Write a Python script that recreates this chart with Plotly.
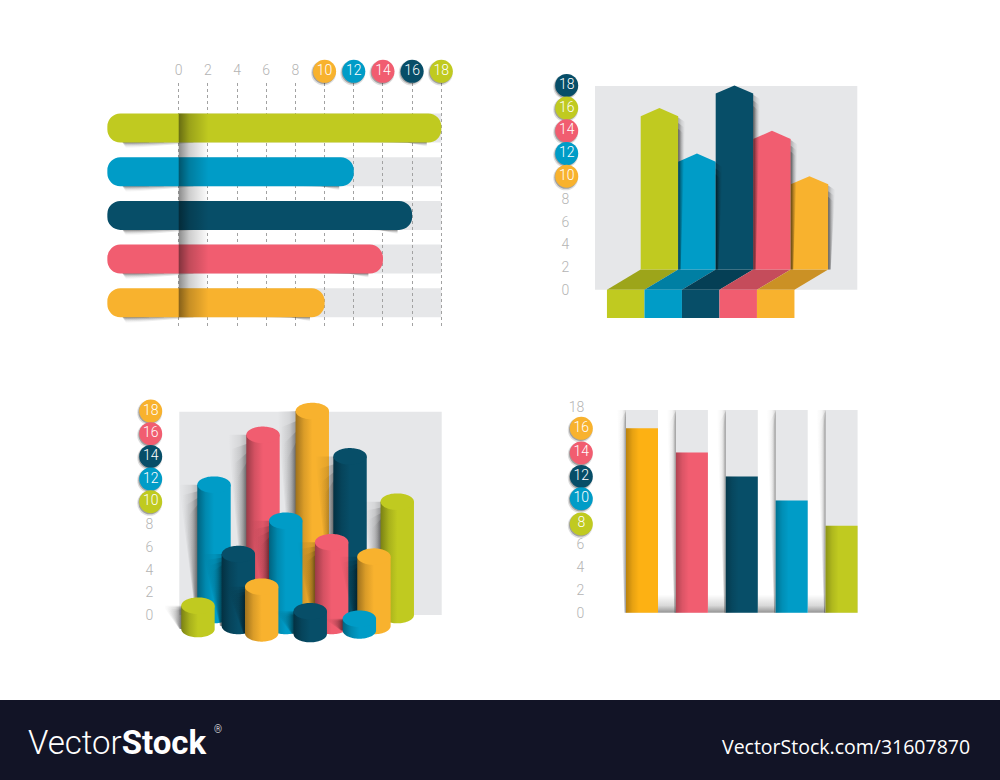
import numpy as np
import plotly.graph_objects as go

# ---------------- data ----------------
OLIVE, BLUE, NAVY, RED, ORANGE = "#c0ca20", "#009cc7", "#074e68", "#f15d70", "#f8b22e"

h_values = [18, 12, 16, 14, 10]
h_tail = -4.89
h_colors = [OLIVE, BLUE, NAVY, RED, ORANGE]
h_badges = [10, 12, 14, 16, 18]
h_badge_colors = [ORANGE, BLUE, RED, NAVY, OLIVE]
h_ticks = [0, 2, 4, 6, 8]
h_grid = [0, 2, 4, 6, 8, 10, 12, 14, 16, 18]

a_values = [16, 12, 18, 14, 10]
a_colors = [OLIVE, BLUE, NAVY, RED, ORANGE]
a_badges = [18, 16, 14, 12, 10]
a_badge_colors = [NAVY, OLIVE, RED, BLUE, ORANGE]
a_ticks = [0, 2, 4, 6, 8]

c_x = [2.38, 5.74, 9.12, 11.71, 14.95, 4.05, 7.30, 10.45, 13.35, 1.28, 5.65, 8.98, 12.35]
c_top = [11.5, 15.9, 18.0, 14.0, 10.0, 5.38, 8.32, 6.42, 5.15, 0.82, 2.50, 0.33, -0.33]
c_base = [0, 0, 0, 0, 0, -0.97, -0.97, -0.97, -0.97, -1.24, -1.62, -1.68, -1.36]
c_colors = [BLUE, RED, ORANGE, NAVY, OLIVE, NAVY, BLUE, RED, ORANGE, OLIVE, ORANGE, NAVY, BLUE]
c_badges = [18, 16, 14, 12, 10]
c_badge_colors = [ORANGE, RED, NAVY, BLUE, OLIVE]
c_ticks = [0, 2, 4, 6, 8]

d_values = [16.1, 14.0, 11.9, 9.8, 7.6]
d_track = 17.7
d_colors = ["#fdb113", RED, NAVY, BLUE, OLIVE]
d_badges = [16, 14, 12, 10, 8]
d_badge_pos = [16.1, 13.95, 11.9, 9.95, 7.75]
d_badge_colors = ["#f8b22e", RED, NAVY, BLUE, OLIVE]
d_ticks = [0, 2, 4, 6, 18]

TRACK = "#e6e7e9"
TICK = "#b4b4b4"
FONT = "Roboto"

# ---------------- helpers ----------------
W, H = 1000, 780


def rgb(c):
    return tuple(int(c[i:i + 2], 16) for i in (1, 3, 5))


def mix(c, k):
    r, g, b = rgb(c)
    return f"rgb({int(r * (1 - k))},{int(g * (1 - k))},{int(b * (1 - k))})"


def blk(a):
    return f"rgba(0,0,0,{a})"


fig = go.Figure()


def poly(xs, ys, color, ax):
    fig.add_trace(go.Scatter(x=xs, y=ys, mode="none", fill="toself", fillcolor=color,
                             xaxis="x" + ax, yaxis="y" + ax, hoverinfo="skip", showlegend=False))


def gpoly(xs, ys, kind, start, stop, scale, ax):
    fig.add_trace(go.Scatter(x=xs, y=ys, mode="none", fill="toself",
                             fillgradient=dict(type=kind, start=start, stop=stop, colorscale=scale),
                             xaxis="x" + ax, yaxis="y" + ax, hoverinfo="skip", showlegend=False))


def badges(xs, ys, labels, colors, ax, ux, uy):
    fig.add_trace(go.Scatter(x=[x - 1.0 / ux for x in xs], y=[y - uy * 1.6 for y in ys], mode="markers",
                             marker=dict(size=25, color=blk(0.13), line=dict(width=0)), cliponaxis=False,
                             xaxis="x" + ax, yaxis="y" + ax, hoverinfo="skip", showlegend=False))
    fig.add_trace(go.Scatter(x=[x - 0.8 / ux for x in xs], y=[y - uy * 1.1 for y in ys], mode="markers",
                             marker=dict(size=23, color=blk(0.28), line=dict(width=0)), cliponaxis=False,
                             xaxis="x" + ax, yaxis="y" + ax, hoverinfo="skip", showlegend=False))
    fig.add_trace(go.Scatter(x=xs, y=ys, mode="markers+text", text=[str(v) for v in labels],
                             textposition="middle center",
                             textfont=dict(family=FONT, size=14, color="white", weight=300),
                             marker=dict(size=23, color=colors, line=dict(width=0)), cliponaxis=False,
                             xaxis="x" + ax, yaxis="y" + ax, hoverinfo="skip", showlegend=False))


def dom(l, r, t, b):
    return [l / W, r / W], [1 - b / H, 1 - t / H]


def hidden(rng, d=None, overlay=None):
    a = dict(range=rng, visible=False, fixedrange=True, showgrid=False, zeroline=False)
    if d is not None:
        a["domain"] = d
    if overlay:
        a["overlaying"] = overlay
    return a


def key_axes(n, drx, dry, rx, ry):
    layout["xaxis" + n] = hidden(rx, drx)
    layout["yaxis" + n] = hidden(ry, dry)
    layout["xaxis" + n]["anchor"] = "y" + n
    layout["yaxis" + n]["anchor"] = "x" + n


shapes = []
layout = {}
tick_font = dict(family=FONT, size=14, color=TICK, weight=300)

# ---------------- panel A: horizontal pills ----------------
ux, uy = 14.59, 43.7
x0px, y0px = 178.7, 128.0
dx, dy = dom(100, 450, 83, 326)
rx = [(100 - x0px) / ux, (450 - x0px) / ux]
ry = [(326 - y0px) / uy, (83 - y0px) / uy]
bw = 0.664
rows = list(range(len(h_values)))
layout["xaxis"] = dict(domain=dx, range=rx, side="top", tickmode="array", tickvals=h_grid,
                       ticktext=[str(v) if v in h_ticks else " " for v in h_grid], ticks="outside",
                       ticklen=1, tickcolor="rgba(0,0,0,0)", tickfont=tick_font, showgrid=True,
                       gridcolor="#a2a2a2", gridwidth=0.8, griddash="3px,3px", zeroline=False,
                       showline=False, fixedrange=True, anchor="y")
layout["yaxis"] = hidden(ry, dy)
layout["yaxis"]["anchor"] = "x"
for n in ("2", "3"):
    layout["xaxis" + n] = hidden(rx, overlay="x")
    layout["yaxis" + n] = hidden(ry, overlay="y")
    layout["xaxis" + n]["anchor"] = "y" + n
    layout["yaxis" + n]["anchor"] = "x" + n

for i in rows:
    shapes.append(dict(type="rect", xref="x", yref="y", x0=0, x1=max(h_grid), y0=i - bw / 2, y1=i + bw / 2,
                       fillcolor=TRACK, line=dict(width=0), layer="below"))
    b = i + bw / 2
    d = 1 / uy
    v = h_values[i]
    for k in range(4):
        f = 1 - k * 0.22
        scale = [[0, blk(0.14)], [1, blk(0)]]
        gpoly([h_tail + 1.0, h_tail + 1.3, h_tail + 1.3 + 4.6 * f, h_tail + 1.3 + 4.6 * f],
              [b - d, b + 6 * f * d, b + 0.2 * d, b - d], "vertical", b, b + 6 * f * d, scale, "")
        gpoly([v - 7 * f, v - 2.2, v - 1.0, v - 1.0],
              [b - d, b + 0.4 * d, b + 4 * f * d, b - d], "vertical", b, b + 5 * f * d, scale, "")

fig.add_trace(go.Bar(x=[v - h_tail for v in h_values], y=rows, orientation="h", width=bw, base=h_tail,
                     marker=dict(color=h_colors, cornerradius=13, line=dict(width=0)),
                     xaxis="x2", yaxis="y2", hoverinfo="skip", showlegend=False))
top, bot = rows[0] - bw / 2, rows[-1] + bw / 2
gpoly([0, 2.05, 2.05, 0], [top, top, bot, bot], "horizontal", 0, 2.05,
      [[0, blk(0.46)], [0.35, blk(0.2)], [1, blk(0)]], "3")
kx, ky = dom(100, 450, 55, 83)
key_axes("9", kx, ky, rx, [0, 1])
badges(h_badges, [(83 - 71.3) / 28] * 5, h_badges, h_badge_colors, "9", ux, 1 / 28)

# ---------------- panel B: arrows with floor ----------------
ux, uy = 37.5, 11.35
x0px, y0px = 625.7, 289.7
dx, dy = dom(595, 870, 70, 325)
rx = [(595 - x0px) / ux, (870 - x0px) / ux]
ry = [(y0px - 325) / uy, (y0px - 70) / uy]
layout["xaxis4"] = hidden(rx, dx)
layout["xaxis4"]["anchor"] = "y4"
layout["yaxis4"] = dict(domain=dy, range=ry, anchor="x4", tickmode="array", tickvals=a_ticks,
                        ticks="outside", ticklen=22, tickcolor="rgba(0,0,0,0)", tickfont=tick_font,
                        showgrid=False, zeroline=False, showline=False, fixedrange=True)
shapes.append(dict(type="rect", xref="x4", yref="y4", x0=(595 - x0px) / ux, x1=(857.3 - x0px) / ux,
                   y0=0, y1=(y0px - 86) / uy, fillcolor=TRACK, line=dict(width=0), layer="below"))
shift, floor_y, front_y, cap = 0.9, 1.79, -2.49, 0.72
hw = 0.5
for i, (v, c) in enumerate(zip(a_values, a_colors)):
    poly([i - hw, i + hw, i + hw + shift, i - hw + shift], [0, 0, floor_y, floor_y], mix(c, 0.18), "4")
    poly([i - hw, i + hw, i + hw, i - hw], [front_y, front_y, 0, 0], c, "4")
for i, (v, c) in enumerate(zip(a_values, a_colors)):
    cx = i + shift
    poly([cx - hw, cx + hw, cx + hw, cx, cx - hw], [floor_y, floor_y, v - cap, v, v - cap], c, "4")
for i, v in enumerate(a_values):
    r = i + shift + hw
    for k in range(3):
        w1, w2 = (7 - k) / ux, 2.5 / ux
        gpoly([r, r + w1, r + w2, r], [v - cap - 0.1 - k * 0.5, v - cap - 0.5 - k * 0.5, floor_y, floor_y],
              "horizontal", r, r + w1, [[0, blk(0.26)], [0.5, blk(0.09)], [1, blk(0)]], "4")
kx, ky = dom(550, 590, 70, 325)
key_axes("10", kx, ky, [550, 590], ry)
badges([566.7] * 5, a_badges, a_badges, a_badge_colors, "10", 1, 1 / uy)

# ---------------- panel C: cylinders ----------------
ux, uy = 14.58, 11.33
x0px, y0px = 179.3, 615.0
dx, dy = dom(165, 450, 395, 650)
rx = [(165 - x0px) / ux, (450 - x0px) / ux]
ry = [(y0px - 650) / uy, (y0px - 395) / uy]
layout["xaxis5"] = hidden(rx, dx)
layout["xaxis5"]["anchor"] = "y5"
layout["yaxis5"] = dict(domain=dy, range=ry, anchor="x5", tickmode="array", tickvals=c_ticks,
                        ticks="outside", ticklen=8, tickcolor="rgba(0,0,0,0)", tickfont=tick_font,
                        showgrid=False, zeroline=False, showline=False, fixedrange=True)
shapes.append(dict(type="rect", xref="x5", yref="y5", x0=0, x1=(441.7 - x0px) / ux,
                   y0=0, y1=(y0px - 411.7) / uy, fillcolor=TRACK, line=dict(width=0), layer="below"))
rxc, ryc = 16.7 / ux, 8.3 / uy
t = np.linspace(0, np.pi, 40)
tf = np.linspace(0, 2 * np.pi, 80)
for cx, tp, bs, c in zip(c_x, c_top, c_base, c_colors):
    l = cx - rxc
    h = tp - bs
    for k in range(4):
        w = (18 - k * 3) / ux
        drop = min(k * 0.08, 0.3) * h
        gpoly([l - w, l + 0.1, l + 0.1, l - w * 0.1], [tp - drop, tp - drop * 0.6, bs, bs], "horizontal",
              l - w, l + 0.1, [[0, blk(0)], [0.6, blk(0.07)], [1, blk(0.21)]], "5")
    sx = list(cx - rxc * np.cos(t)) + [cx + rxc, cx - rxc]
    sy = list(bs - ryc * np.sin(t)) + [tp, tp]
    gpoly(sx, sy, "horizontal", cx - rxc, cx + rxc,
          [[0, mix(c, 0.36)], [0.25, mix(c, 0.12)], [0.5, c], [1, c]], "5")
    poly(list(cx + rxc * np.cos(tf)), list(tp + ryc * np.sin(tf)), c, "5")
kx, ky = dom(130, 165, 395, 650)
key_axes("11", kx, ky, [130, 165], ry)
badges([150.7] * 5, c_badges, c_badges, c_badge_colors, "11", 1, 1 / uy)

# ---------------- panel D: vertical bars ----------------
ux, uy = 49.9, 11.45
x0px, y0px = 642.0, 612.7
dx, dy = dom(600, 870, 395, 625)
rx = [(600 - x0px) / ux, (870 - x0px) / ux]
ry = [(y0px - 625) / uy, (y0px - 395) / uy]
cols = list(range(len(d_values)))
layout["xaxis6"] = hidden(rx, dx)
layout["xaxis6"]["anchor"] = "y6"
layout["yaxis6"] = dict(domain=dy, range=ry, anchor="x6", tickmode="array", tickvals=d_ticks,
                        ticks="outside", ticklen=12, tickcolor="rgba(0,0,0,0)", tickfont=tick_font,
                        showgrid=False, zeroline=False, showline=False, fixedrange=True)
for n in ("7", "8"):
    layout["xaxis" + n] = hidden(rx, overlay="x6")
    layout["yaxis" + n] = hidden(ry, overlay="y6")
    layout["xaxis" + n]["anchor"] = "y" + n
    layout["yaxis" + n]["anchor"] = "x" + n
bw = 32 / ux
for i in cols:
    l = i - bw / 2
    for k in range(3):
        w1, w2 = (9 - k * 2) / ux, 1.5 / ux
        drop = k * 1.2
        gpoly([l - w1, l + 0.01, l + 0.01, l - w2], [d_track - drop, d_track, 0, 0], "horizontal", l - w1, l,
              [[0, blk(0)], [0.6, blk(0.04)], [1, blk(0.16)]], "6")
    if i < cols[-1]:
        r = i + bw / 2
        nl = i + 1 - bw / 2
        h = 18 / uy
        gpoly([r, nl, nl, r], [h, h, 0, 0], "vertical", 0, h,
              [[0, blk(0.42)], [0.4, blk(0.15)], [1, blk(0)]], "6")
fig.add_trace(go.Bar(x=cols, y=[d_track] * 5, width=bw, marker=dict(color=TRACK, line=dict(width=0)),
                     xaxis="x7", yaxis="y7", hoverinfo="skip", showlegend=False))
fig.add_trace(go.Bar(x=cols, y=d_values, width=bw, marker=dict(color=d_colors, line=dict(width=0)),
                     xaxis="x7", yaxis="y7", hoverinfo="skip", showlegend=False))
for i, v in zip(cols, d_values):
    l = i - bw / 2
    w = 13 / ux
    gpoly([l, l + w, l + w, l], [v, v, 0, 0], "horizontal", l, l + w,
          [[0, blk(0.27)], [0.5, blk(0.09)], [1, blk(0)]], "8")
kx, ky = dom(565, 600, 395, 625)
key_axes("12", kx, ky, [565, 600], ry)
badges([581.3] * 5, d_badge_pos, d_badges, d_badge_colors, "12", 1, 1 / uy)

# ---------------- footer ----------------
shapes.append(dict(type="rect", xref="paper", yref="paper", x0=0, x1=1, y0=0, y1=80 / H,
                   fillcolor="#121426", line=dict(width=0), layer="below"))
annotations = [
    dict(xref="paper", yref="paper", x=26 / W, y=1 - 742 / H, xanchor="left", yanchor="middle", showarrow=False,
         text="Vector<b>Stock</b>", font=dict(family="Roboto", size=33, color="white", weight=300)),
    dict(xref="paper", yref="paper", x=212 / W, y=1 - 729 / H, xanchor="left", yanchor="middle", showarrow=False,
         text="®", font=dict(family="Roboto", size=10, color="white", weight=300)),
    dict(xref="paper", yref="paper", x=972 / W, y=1 - 746 / H, xanchor="right", yanchor="middle", showarrow=False,
         text="VectorStock.com/31607870", font=dict(family="Open Sans", size=19.5, color="white")),
]

fig.update_layout(width=W, height=H, margin=dict(l=0, r=0, t=0, b=0), paper_bgcolor="white",
                  plot_bgcolor="rgba(0,0,0,0)", barmode="overlay", showlegend=False, shapes=shapes,
                  annotations=annotations, **layout)
fig.write_html("out.html", config={"displayModeBar": False},
               post_script="document.body.style.margin='0';document.body.style.overflow='hidden';")
